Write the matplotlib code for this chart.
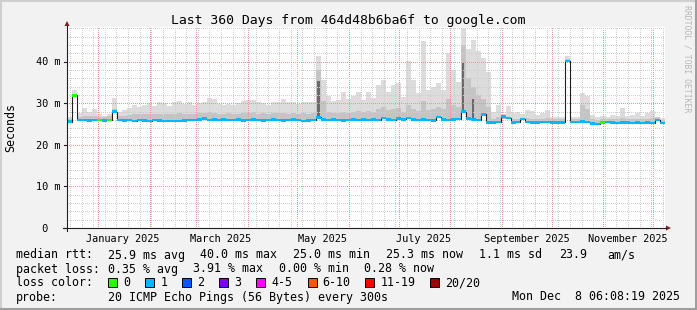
import datetime as dt
import numpy as np
import matplotlib
matplotlib.use("Agg")
import matplotlib.pyplot as plt
import matplotlib.dates as mdates
from matplotlib.lines import Line2D
from matplotlib.patches import Rectangle, Polygon

# smokeping graph, 360 days, one value per 3 day bin (ms)
start = dt.datetime(2024, 12, 13, 6, 8, 19)
end = dt.datetime(2025, 12, 8, 6, 8, 19)
bin_days = 3

median = [25.6, 31.9, 26.0, 26.0, 25.9, 26.0, 26.0, 25.9, 26.0, 28.0,
          26.0, 25.9, 26.0, 25.8, 26.0, 25.9, 25.8, 26.0, 25.9, 25.8,
          25.7, 25.8, 25.7, 25.9, 26.0, 26.0, 26.1, 26.3, 26.0, 26.1,
          26.0, 26.1, 26.0, 26.0, 26.1, 25.9, 26.0, 26.1, 26.0, 25.9,
          26.0, 26.1, 26.0, 25.9, 26.0, 26.1, 26.0, 25.8, 25.9, 26.0,
          26.6, 26.1, 26.0, 26.1, 26.0, 25.9, 26.0, 26.1, 26.0, 26.1,
          26.0, 26.1, 26.0, 26.5, 26.1, 26.0, 26.3, 26.1, 26.4, 26.1,
          26.0, 26.1, 26.0, 25.9, 26.7, 26.1, 26.0, 26.1, 26.2, 28.0,
          26.3, 26.1, 26.0, 27.3, 25.4, 25.4, 25.5, 26.8, 26.4, 25.4,
          25.5, 26.2, 25.5, 25.4, 25.4, 25.5, 25.5, 25.4, 25.4, 25.4,
          40.1, 25.5, 25.5, 25.6, 25.5, 25.1, 25.0, 25.4, 25.5, 25.4,
          25.3, 25.4, 25.4, 25.3, 25.4, 25.3, 25.4, 25.3, 26.0, 25.3]

smoke_max = [26.6, 33.3, 27.6, 28.9, 28.0, 28.5, 27.4, 27.0, 27.5, 31.3,
             27.8, 28.4, 28.9, 29.6, 29.2, 29.6, 30.0, 29.4, 30.4, 30.0,
             29.3, 30.2, 30.6, 29.8, 30.4, 29.6, 30.0, 30.2, 31.3, 31.0,
             29.8, 29.7, 29.9, 29.6, 30.0, 30.6, 30.8, 30.8, 30.2, 30.0,
             29.7, 30.4, 30.4, 31.0, 30.2, 30.4, 29.8, 30.4, 30.2, 30.4,
             41.3, 35.6, 31.7, 30.5, 30.8, 32.8, 31.0, 31.7, 32.8, 30.8,
             32.8, 31.2, 34.3, 35.5, 32.8, 34.4, 34.9, 31.5, 40.1, 35.7,
             32.4, 44.9, 33.3, 34.0, 34.9, 33.3, 42.1, 38.0, 35.0, 48.1,
             43.0, 45.3, 42.5, 40.9, 37.5, 28.0, 29.6, 27.4, 29.4, 27.6,
             28.0, 27.4, 28.4, 28.2, 27.2, 27.6, 28.4, 26.8, 26.8, 26.8,
             41.3, 26.8, 26.8, 32.5, 31.8, 27.2, 26.8, 27.0, 26.8, 27.2,
             27.0, 28.8, 27.0, 27.2, 27.6, 27.0, 27.6, 28.2, 26.6, 26.4]

smoke_mid = [26.3, 32.0, 26.8, 27.0, 26.9, 27.0, 26.8, 26.7, 26.9, 28.6,
             26.9, 27.0, 27.2, 27.4, 27.3, 27.5, 27.4, 27.3, 27.5, 27.4,
             27.3, 27.5, 27.6, 27.4, 27.5, 27.4, 27.6, 27.7, 27.8, 27.6,
             27.4, 27.5, 27.6, 27.4, 27.5, 27.7, 27.6, 27.8, 27.5, 27.6,
             27.4, 27.6, 27.7, 27.6, 27.5, 27.7, 27.4, 27.6, 27.5, 27.7,
             38.0, 30.5, 27.8, 27.6, 27.7, 28.0, 27.7, 27.9, 28.2, 27.8,
             28.2, 27.9, 28.6, 29.0, 28.3, 28.6, 28.8, 28.0, 29.5, 28.6,
             28.2, 30.5, 28.4, 28.6, 29.0, 28.5, 31.0, 29.5, 29.0, 44.0,
             36.0, 34.0, 32.0, 31.0, 29.0, 26.3, 26.8, 26.2, 26.8, 26.2,
             26.3, 26.2, 26.4, 26.3, 26.1, 26.2, 26.4, 26.1, 26.1, 26.1,
             40.6, 26.1, 26.1, 29.5, 28.6, 26.2, 26.0, 26.2, 26.1, 26.2,
             26.1, 26.5, 26.1, 26.2, 26.3, 26.1, 26.3, 26.4, 26.6, 26.0]

green_bins = [1, 6, 8, 107]          # loss 0, all other bins loss 1
core_bins = [50, 79, 81]
core_tops = [35.3, 39.7, 31.0]

y_ticks = [0, 10, 20, 30, 40]
y_tick_labels = [' 0', '10 m', '20 m', '30 m', '40 m']
label_months = [(2025, 1), (2025, 3), (2025, 5), (2025, 7), (2025, 9), (2025, 11)]
month_labels = ['January 2025', 'March 2025', 'May 2025', 'July 2025',
                'September 2025', 'November 2025']

stats_rtt = ['25.9 ms avg', '40.0 ms max', '25.0 ms min', '25.3 ms now',
             '1.1 ms sd', '23.9', 'am/s']
stats_loss = ['0.35 % avg', '3.91 % max', '0.00 % min', '0.28 % now']
loss_labels = ['0', '1', '2', '3', '4-5', '6-10', '11-19', '20/20']
loss_colors = ['#26ff00', '#00b8ff', '#0059ff', '#7e00ff', '#ff00ff',
               '#ff5500', '#ff0000', '#a10000']
probe_text = '20 ICMP Echo Pings (56 Bytes) every 300s'
stamp = 'Mon Dec  8 06:08:19 2025'
title = 'Last 360 Days from 464d48b6ba6f to google.com'

W, H = 697, 310
X0, X1, Y0, YTOP = 67, 665, 228, 27
MS_PX = 4.158
MONO = 'DejaVu Sans Mono'


def fx(x):
    return x / W


def fy(y):
    return 1 - y / H


median = np.array(median)
t0 = mdates.date2num(start)
t1 = mdates.date2num(end)
edges = t0 + bin_days * np.arange(len(median) + 1)

fig = plt.figure(figsize=(W / 100, H / 100), dpi=100, facecolor='#f2f2f2')
ax = fig.add_axes([fx(X0), fy(Y0), (X1 - X0) / W, (Y0 - YTOP) / H])
ax.set_xlim(t0, t1)
ax.set_ylim(0, (Y0 - YTOP) / MS_PX)
ax.set_facecolor('white')
for s in ax.spines.values():
    s.set_visible(False)
ax.set_xticks([])
ax.set_yticks([])

# smoke
ax.stairs(smoke_max, edges, baseline=median, fill=True, color='#dcdcdc', lw=0, zorder=1)
ax.stairs(smoke_mid, edges, baseline=median, fill=True, color='#c4c4c4', lw=0, zorder=2)
core_med = median[core_bins]
ax.bar(edges[core_bins] + 1.5, np.array(core_tops) - core_med, bottom=core_med,
       width=1.4, color='#6a6a6a', lw=0, zorder=2)

# grid (dotted, like rrdtool)
grid_c = '#cdcdcd'
mgrid_c = '#eb9595'
gkw = dict(lw=0.72, dashes=(1, 1.4), antialiased=False, zorder=3)
months = [dt.datetime(2025, m, 1) for m in range(1, 13)]
d = dt.datetime(2024, 12, 15)
while d < end:
    if d.day != 1:
        ax.axvline(mdates.date2num(d), color=grid_c, **gkw)
    d += dt.timedelta(days=7)
for m in months:
    ax.axvline(mdates.date2num(m), color=mgrid_c, **gkw)
for v in range(2, 49, 2):
    c = mgrid_c if v % 10 == 0 else grid_c
    ax.axhline(v, color=c, **gkw)

# median line and loss colour band
w = 1.2 / MS_PX
ax.stairs(median, edges, baseline=None, color='#202020', lw=0.8, zorder=4)
ax.stairs(median + w, edges, baseline=median - w, fill=True, color=loss_colors[1], lw=0, zorder=5)
ax.bar(edges[green_bins], 2 * w, bottom=median[green_bins] - w, width=bin_days,
       align='edge', color=loss_colors[0], lw=0, zorder=6)

# axes lines, ticks and arrows
axis_c = '#1f1f1f'
arrow_c = '#801f1f'
fig.add_artist(Line2D([fx(63), fx(666)], [fy(Y0), fy(Y0)], color=axis_c, lw=0.8))
fig.add_artist(Line2D([fx(X0), fx(X0)], [fy(231), fy(26)], color=axis_c, lw=0.8))
fig.add_artist(Polygon([[fx(666), fy(225.5)], [fx(671), fy(Y0)], [fx(666), fy(230.5)]],
                       closed=True, color=arrow_c, lw=0))
fig.add_artist(Polygon([[fx(64.5), fy(26)], [fx(X0), fy(21)], [fx(69.5), fy(26)]],
                       closed=True, color=arrow_c, lw=0))

for v, lab in zip(y_ticks, y_tick_labels):
    py = Y0 - v * MS_PX
    fig.add_artist(Line2D([fx(64), fx(X0)], [fy(py), fy(py)], color=axis_c, lw=0.8))
    fig.text(fx(35.5), fy(py + 3.7), lab, family=MONO, fontsize=7.35, va='baseline')

for (yr, mo), lab in zip(label_months, month_labels):
    t = mdates.date2num(dt.datetime(yr, mo, 1) + dt.timedelta(days=15))
    px = X0 + (t - t0) / (t1 - t0) * (X1 - X0)
    fig.text(fx(px), fy(241.5), lab, family=MONO, fontsize=7.35, ha='center', va='baseline')

fig.text(fx(11), fy(127.5), 'Seconds', family=MONO, fontsize=8.4, rotation=90,
         ha='center', va='center')
fig.text(fx(348.5), fy(24), title, family=MONO, fontsize=9.45, ha='center', va='baseline')
fig.text(fx(687.5), fy(5), 'RRDTOOL / TOBI OETIKER', family=MONO, fontsize=5.9,
         rotation=270, ha='center', va='top', color='#b8b8b8')

# legend
fs = 8.4
fig.text(fx(16), fy(258.5), 'median rtt:', family=MONO, fontsize=fs, va='baseline')
for x, s in zip([107.5, 200, 293.3, 385.8, 479, 558.7, 607.6], stats_rtt):
    fig.text(fx(x), fy(258.5), s, family=MONO, fontsize=fs, va='baseline')
fig.text(fx(16), fy(272.5), 'packet loss:', family=MONO, fontsize=fs, va='baseline')
for x, s in zip([107.5, 193.3, 279, 364.4], stats_loss):
    fig.text(fx(x), fy(272.5), s, family=MONO, fontsize=fs, va='baseline')
fig.text(fx(16), fy(286.5), 'loss color:', family=MONO, fontsize=fs, va='baseline')
box_x = [108, 145.3, 182.2, 219.1, 256.4, 307.6, 365.3, 429.8]
for x, lab, col in zip(box_x, loss_labels, loss_colors):
    fig.add_artist(Rectangle((fx(x), fy(287)), 9 / W, 9 / H, facecolor=col,
                             edgecolor='black', lw=0.7))
    fig.text(fx(x + 15), fy(286.5), lab, family=MONO, fontsize=fs, va='baseline')
fig.text(fx(16), fy(300.5), 'probe:', family=MONO, fontsize=fs, va='baseline')
fig.text(fx(107.5), fy(300.5), probe_text, family=MONO, fontsize=fs, va='baseline')
fig.text(fx(512.4), fy(300.5), stamp, family=MONO, fontsize=fs, va='baseline')

# image shade border
fig.add_artist(Line2D([0, 1], [fy(0.5), fy(0.5)], color='#cfcfcf', lw=1.5))
fig.add_artist(Line2D([fx(0.5), fx(0.5)], [0, 1], color='#cfcfcf', lw=1.5))
fig.add_artist(Line2D([0, 1], [fy(309), fy(309)], color='#9e9e9e', lw=1.5))
fig.add_artist(Line2D([fx(696), fx(696)], [0, 1], color='#9e9e9e', lw=1.5))

fig.savefig('out.png', dpi=100, facecolor=fig.get_facecolor())
